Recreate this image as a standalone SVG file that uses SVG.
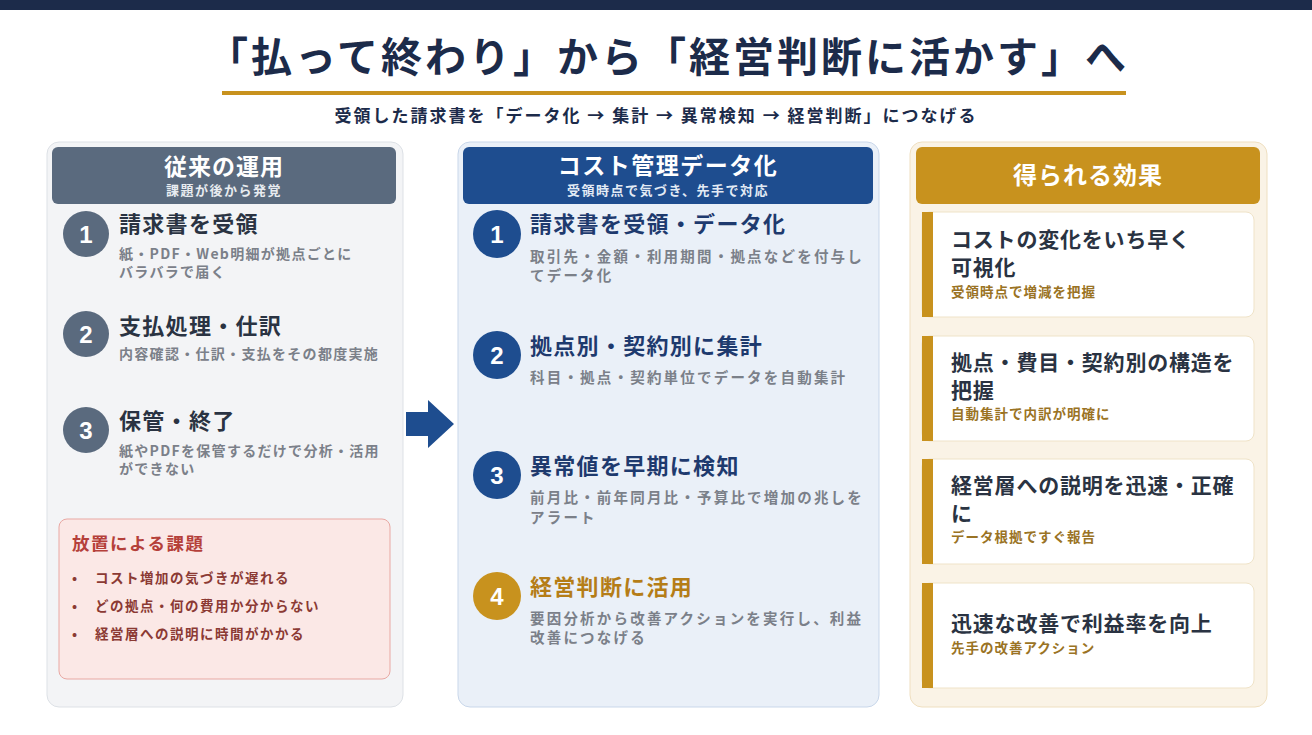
<svg xmlns="http://www.w3.org/2000/svg" width="1312" height="735" viewBox="0 0 1312 735">
<style>
text{font-family:"Noto Sans CJK JP","Noto Sans",sans-serif;font-weight:bold}
.t{font-size:22px;fill:#2a3342;letter-spacing:1.3px}
.d{font-size:14px;fill:#7b8089;letter-spacing:1.3px}
.dm{font-size:14.5px;fill:#7b8089;letter-spacing:2.2px}
.n{font-size:24px;fill:#fff;text-anchor:middle;font-family:"Liberation Sans",sans-serif}
.bt{font-size:21px;fill:#2a3342;letter-spacing:0.8px}
.bs{font-size:13.5px;fill:#9a7324;letter-spacing:1px}
.is{font-size:13.5px;fill:#8b3a34;letter-spacing:1.5px}
.card{fill:#fff;stroke:#efe3c8}
</style>
<rect width="1312" height="735" fill="#fff"/>
<rect width="1312" height="10" fill="#1c2b4a"/>
<text x="668" y="72" font-size="41" fill="#1c2b4a" text-anchor="middle" letter-spacing="3">「払って終わり」から「経営判断に活かす」へ</text>
<rect x="222" y="91" width="904" height="4" fill="#c8921e"/>
<text x="656" y="122" font-size="17" fill="#1c2b4a" text-anchor="middle" letter-spacing="2">受領した請求書を「データ化 → 集計 → 異常検知 → 経営判断」につなげる</text>

<g id="left">
<rect x="47" y="142" width="356" height="565" rx="12" fill="#f3f4f6" stroke="#dde1e6"/>
<rect x="52" y="147" width="344" height="57" rx="6" fill="#5a6a7e"/>
<text x="224" y="175" font-size="23" fill="#fff" text-anchor="middle" letter-spacing="1">従来の運用</text>
<text x="224" y="195" font-size="13" fill="#e8ecf0" text-anchor="middle" letter-spacing="1.5">課題が後から発覚</text>
<circle cx="86" cy="234" r="23" fill="#5a6a7e"/><text class="n" x="86" y="243">1</text>
<text class="t" x="119" y="232">請求書を受領</text>
<text class="d" x="119" y="259">紙・PDF・Web明細が拠点ごとに</text>
<text class="d" x="119" y="277">バラバラで届く</text>
<circle cx="86" cy="334" r="23" fill="#5a6a7e"/><text class="n" x="86" y="343">2</text>
<text class="t" x="119" y="334">支払処理・仕訳</text>
<text class="d" x="119" y="359">内容確認・仕訳・支払をその都度実施</text>
<circle cx="86" cy="430" r="23" fill="#5a6a7e"/><text class="n" x="86" y="439">3</text>
<text class="t" x="119" y="429">保管・終了</text>
<text class="d" x="119" y="456">紙やPDFを保管するだけで分析・活用</text>
<text class="d" x="119" y="474">ができない</text>
<rect x="59" y="519" width="331" height="160" rx="8" fill="#fbe8e6" stroke="#e9a8a3"/>
<text x="72" y="550" font-size="17.5" fill="#b5403a" letter-spacing="1.5">放置による課題</text>
<text class="is" x="72" y="583">•</text><text class="is" x="95" y="583">コスト増加の気づきが遅れる</text>
<text class="is" x="72" y="611">•</text><text class="is" x="95" y="611">どの拠点・何の費用か分からない</text>
<text class="is" x="72" y="639">•</text><text class="is" x="95" y="639">経営層への説明に時間がかかる</text>
</g>

<g id="connectors">
<polygon points="406,412 428,412 428,400 454,424 428,448 428,436 406,436" fill="#1e4d8f"/>
</g>

<g id="middle">
<rect x="458" y="142" width="421" height="565" rx="12" fill="#eaf0f8" stroke="#c9d7ea"/>
<rect x="463" y="147" width="410" height="57" rx="6" fill="#1e4d8f"/>
<text x="668" y="174" font-size="23" fill="#fff" text-anchor="middle" letter-spacing="1.5">コスト管理データ化</text>
<text x="668" y="195" font-size="13" fill="#e3ebf5" text-anchor="middle" letter-spacing="1.5">受領時点で気づき、先手で対応</text>
<circle cx="497" cy="234" r="24" fill="#1e4d8f"/><text class="n" x="497" y="243">1</text>
<text class="t" x="530" y="232" style="fill:#1e3a6e">請求書を受領・データ化</text>
<text class="dm" x="530" y="262">取引先・金額・利用期間・拠点などを付与し</text>
<text class="dm" x="530" y="281">てデータ化</text>
<circle cx="497" cy="355" r="24" fill="#1e4d8f"/><text class="n" x="497" y="364">2</text>
<text class="t" x="530" y="354" style="fill:#1e3a6e">拠点別・契約別に集計</text>
<text class="dm" x="530" y="383">科目・拠点・契約単位でデータを自動集計</text>
<circle cx="497" cy="475" r="24" fill="#1e4d8f"/><text class="n" x="497" y="484">3</text>
<text class="t" x="530" y="474" style="fill:#1e3a6e">異常値を早期に検知</text>
<text class="dm" x="530" y="503">前月比・前年同月比・予算比で増加の兆しを</text>
<text class="dm" x="530" y="523">アラート</text>
<circle cx="497" cy="596" r="24" fill="#c8921e"/><text class="n" x="497" y="605">4</text>
<text class="t" x="530" y="595" style="fill:#b57d17">経営判断に活用</text>
<text class="dm" x="530" y="624">要因分析から改善アクションを実行し、利益</text>
<text class="dm" x="530" y="643">改善につなげる</text>
</g>

<g id="right">
<rect x="910" y="142" width="357" height="565" rx="12" fill="#faf3e6" stroke="#efdfc0"/>
<rect x="916" y="147" width="344" height="57" rx="6" fill="#c8921e"/>
<text x="1088" y="184" font-size="24" fill="#fff" text-anchor="middle" letter-spacing="1">得られる効果</text>
<g id="card1"><rect class="card" x="922" y="212" width="332" height="105" rx="8"/><rect x="922" y="212" width="11" height="105" fill="#c8921e"/>
<text class="bt" x="951" y="247">コストの変化をいち早く</text><text class="bt" x="951" y="275">可視化</text><text class="bs" x="951" y="297">受領時点で増減を把握</text></g>
<g id="card2"><rect class="card" x="922" y="336" width="332" height="105" rx="8"/><rect x="922" y="336" width="11" height="105" fill="#c8921e"/>
<text class="bt" x="951" y="370">拠点・費目・契約別の構造を</text><text class="bt" x="951" y="398">把握</text><text class="bs" x="951" y="419">自動集計で内訳が明確に</text></g>
<g id="card3"><rect class="card" x="922" y="459" width="332" height="105" rx="8"/><rect x="922" y="459" width="11" height="105" fill="#c8921e"/>
<text class="bt" x="951" y="493">経営層への説明を迅速・正確</text><text class="bt" x="951" y="521">に</text><text class="bs" x="951" y="542">データ根拠ですぐ報告</text></g>
<g id="card4"><rect class="card" x="922" y="583" width="332" height="105" rx="8"/><rect x="922" y="583" width="11" height="105" fill="#c8921e"/>
<text class="bt" x="951" y="631">迅速な改善で利益率を向上</text><text class="bs" x="951" y="653">先手の改善アクション</text></g>
</g>
</svg>
